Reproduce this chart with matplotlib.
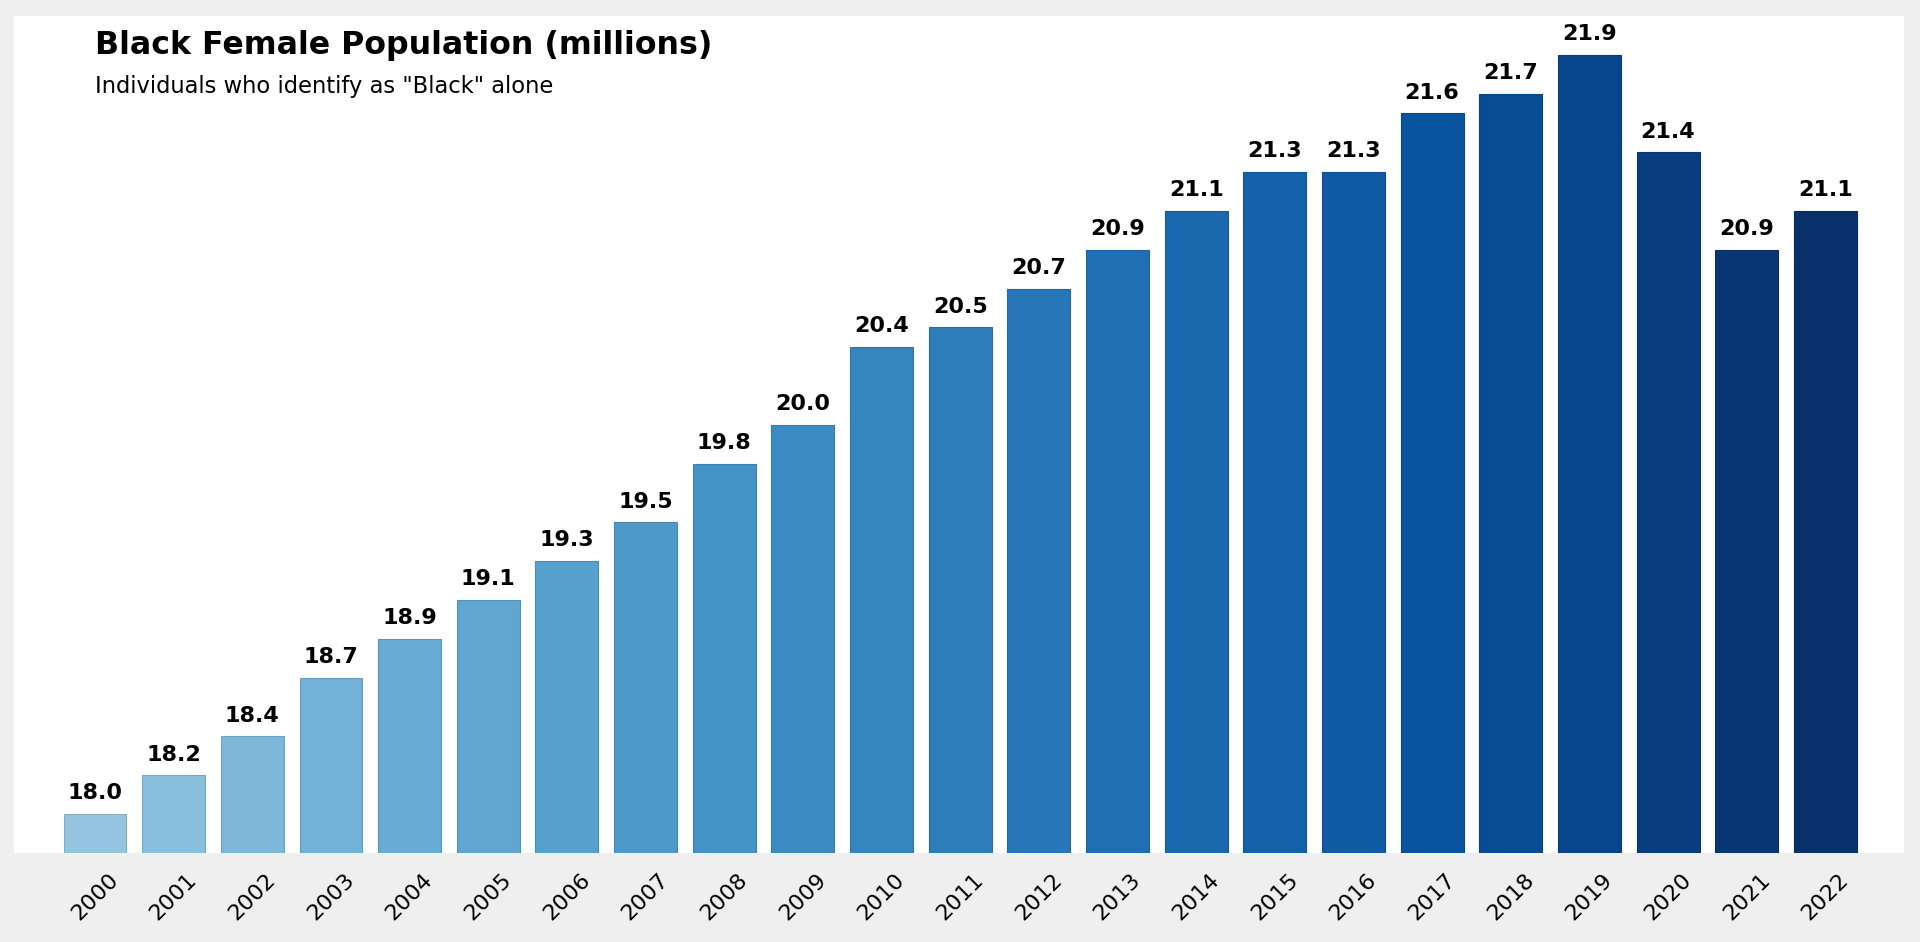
import matplotlib
matplotlib.use("Agg")
import matplotlib.pyplot as plt
import numpy as np

years = [str(y) for y in range(2000, 2023)]
population = [18.0, 18.2, 18.4, 18.7, 18.9, 19.1, 19.3, 19.5, 19.8, 20.0, 20.4, 20.5,
              20.7, 20.9, 21.1, 21.3, 21.3, 21.6, 21.7, 21.9, 21.4, 20.9, 21.1]

title = "Black Female Population (millions)"
subtitle = 'Individuals who identify as "Black" alone'

colors = plt.cm.Blues(np.linspace(0.4, 1.0, len(years)))
edges = colors.copy()
edges[:, :3] *= 0.88

fig = plt.figure(figsize=(19.2, 9.42), dpi=100, facecolor="#efefef")
ax = fig.add_axes([14 / 1920, 1 - 853 / 942, 1890 / 1920, 837 / 942])
ax.set_facecolor("white")

x = np.arange(len(years))
ax.bar(x, population, width=0.8, color=colors, edgecolor=edges, linewidth=0.8)

for xi, v in zip(x, population):
    ax.annotate(f"{v:.1f}", (xi, v), xytext=(0, 10.5), textcoords="offset points",
                ha="center", va="baseline", fontsize=16, fontweight="bold")

ax.set_xlim(-1.03, 23.0)
ax.set_ylim(17.8, 22.1)
ax.set_xticks(x)
ax.set_xticklabels(years, rotation=45, ha="center", fontsize=16)
ax.tick_params(axis="x", length=0, pad=12)
ax.set_yticks([])
for s in ax.spines.values():
    s.set_visible(False)

fig.text(0.0496, 1 - 54.3 / 942, title, fontsize=22.8, fontweight="bold", va="baseline")
fig.text(0.0496, 1 - 93.3 / 942, subtitle, fontsize=16.3, va="baseline")

fig.savefig("out.png", dpi=100, facecolor=fig.get_facecolor())
